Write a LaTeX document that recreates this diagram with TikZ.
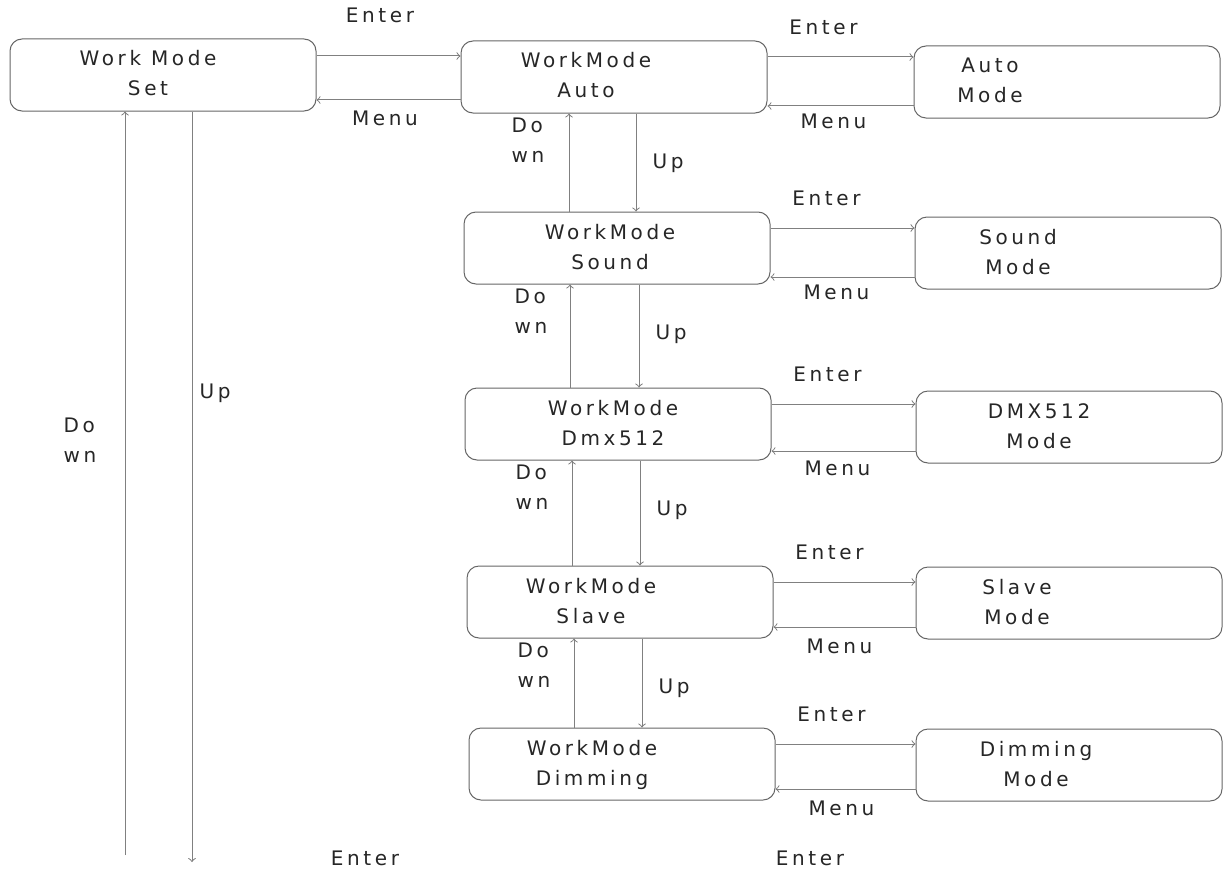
\documentclass[tikz,border=0pt]{standalone}
\usepackage{fontspec}
\setmainfont{DejaVu Sans}[LetterSpace=18]
\usepackage{tikz}
\usetikzlibrary{calc}
\definecolor{boxgray}{gray}{0.4}
\definecolor{linegray}{gray}{0.5}
\definecolor{txtgray}{gray}{0.15}
% two lines of text, pushed left by the trailing space
\newcommand{\boxtext}[3]{\begin{tabular}{@{}c@{}}#1\\#2\end{tabular}\hspace*{#3}}

\begin{document}
\begin{tikzpicture}[x=0.5pt, y=-0.5pt, line width=0.5pt, >=to,
        every node/.style = {font=\fontsize{10}{15}\selectfont, text=txtgray},
        box/.style = {draw=boxgray, rounded corners=6pt, minimum width=153pt,
            minimum height=36pt, inner sep=2pt},
        arr/.style = {draw=linegray, ->},
        lbl/.style = {align=left, inner sep=1pt}]
        \useasboundingbox (0,0) rectangle (1224,872);

        % left column
        \node [box] (set) at (163,75) {\boxtext{Work Mode}{Set}{15pt}};

        % middle column
        \node [box] (auto) at (614,77) {\boxtext{WorkMode}{Auto}{28pt}};
        \node [box] (sound) at (617,248) {\boxtext{WorkMode}{Sound}{7pt}};
        \node [box] (dmx) at (618,424) {\boxtext{WorkMode}{Dmx512}{5pt}};
        \node [box] (slave) at (620,602) {\boxtext{WorkMode}{Slave}{29pt}};
        \node [box] (dimming) at (622,764) {\boxtext{WorkMode}{Dimming}{30pt}};

        % right column
        \node [box] (automode) at (1067,82) {\boxtext{Auto}{Mode}{77pt}};
        \node [box] (soundmode) at (1068,253) {\boxtext{Sound}{Mode}{50pt}};
        \node [box] (dmxmode) at (1069,427) {\boxtext{DMX512}{Mode}{30pt}};
        \node [box] (slavemode) at (1069,603) {\boxtext{Slave}{Mode}{52pt}};
        \node [box] (dimmingmode) at (1069,765) {\boxtext{Dimming}{Mode}{33pt}};

        % set <-> auto
        \draw [arr] ([yshift=9.5pt]set.east) -- ([yshift=9.5pt]set.east -| auto.west);
        \draw [arr] ([yshift=-11.5pt]auto.west) -- ([yshift=-11.5pt]auto.west -| set.east);
        \node (enter-set) at (380,15) {Enter};
        \node (menu-set) at (385,118) {Menu};

        % mode <-> mode
        \foreach \a/\b in {auto/automode, sound/soundmode, dmx/dmxmode,
                slave/slavemode, dimming/dimmingmode} {
            \draw [arr] ([yshift=10pt]\a.east) -- ([yshift=10pt]\a.east -| \b.west);
            \draw [arr] ([yshift=-12pt]\b.west) -- ([yshift=-12pt]\b.west -| \a.east);
            \node (enter-\a) at ([xshift=28pt, yshift=25pt]\a.east) {Enter};
            \node (menu-\a) at ([xshift=33pt, yshift=-22pt]\a.east) {Menu};
        }

        % up and down between the middle boxes
        \foreach \a/\b in {auto/sound, sound/dmx, dmx/slave, slave/dimming} {
            \draw [arr] ([xshift=-24pt]\b.north) -- ([xshift=-24pt]\b.north |- \a.south);
            \draw [arr] ([xshift=11pt]\a.south) -- ([xshift=11pt]\a.south |- \b.north);
            \node [lbl, anchor=north] (down-\b) at ([xshift=-43pt, yshift=-1pt]\a.south) {Do\\wn};
            \node (up-\b) at ([xshift=27pt, yshift=-25pt]\a.south) {Up};
        }

        % long lines under work mode set
        \coordinate (downend) at (125,855);
        \coordinate (upend) at (192,862);
        \draw [arr] (downend) -- (downend |- set.south);
        \draw [arr] (set.south -| upend) -- (upend);
        \node (up-set) at (215,393) {Up};
        \node [lbl] (down-set) at (80,440) {Do\\wn};
        \node (enter-left) at (365,858) {Enter};
        \node (enter-right) at (810,858) {Enter};
\end{tikzpicture}
\end{document}
